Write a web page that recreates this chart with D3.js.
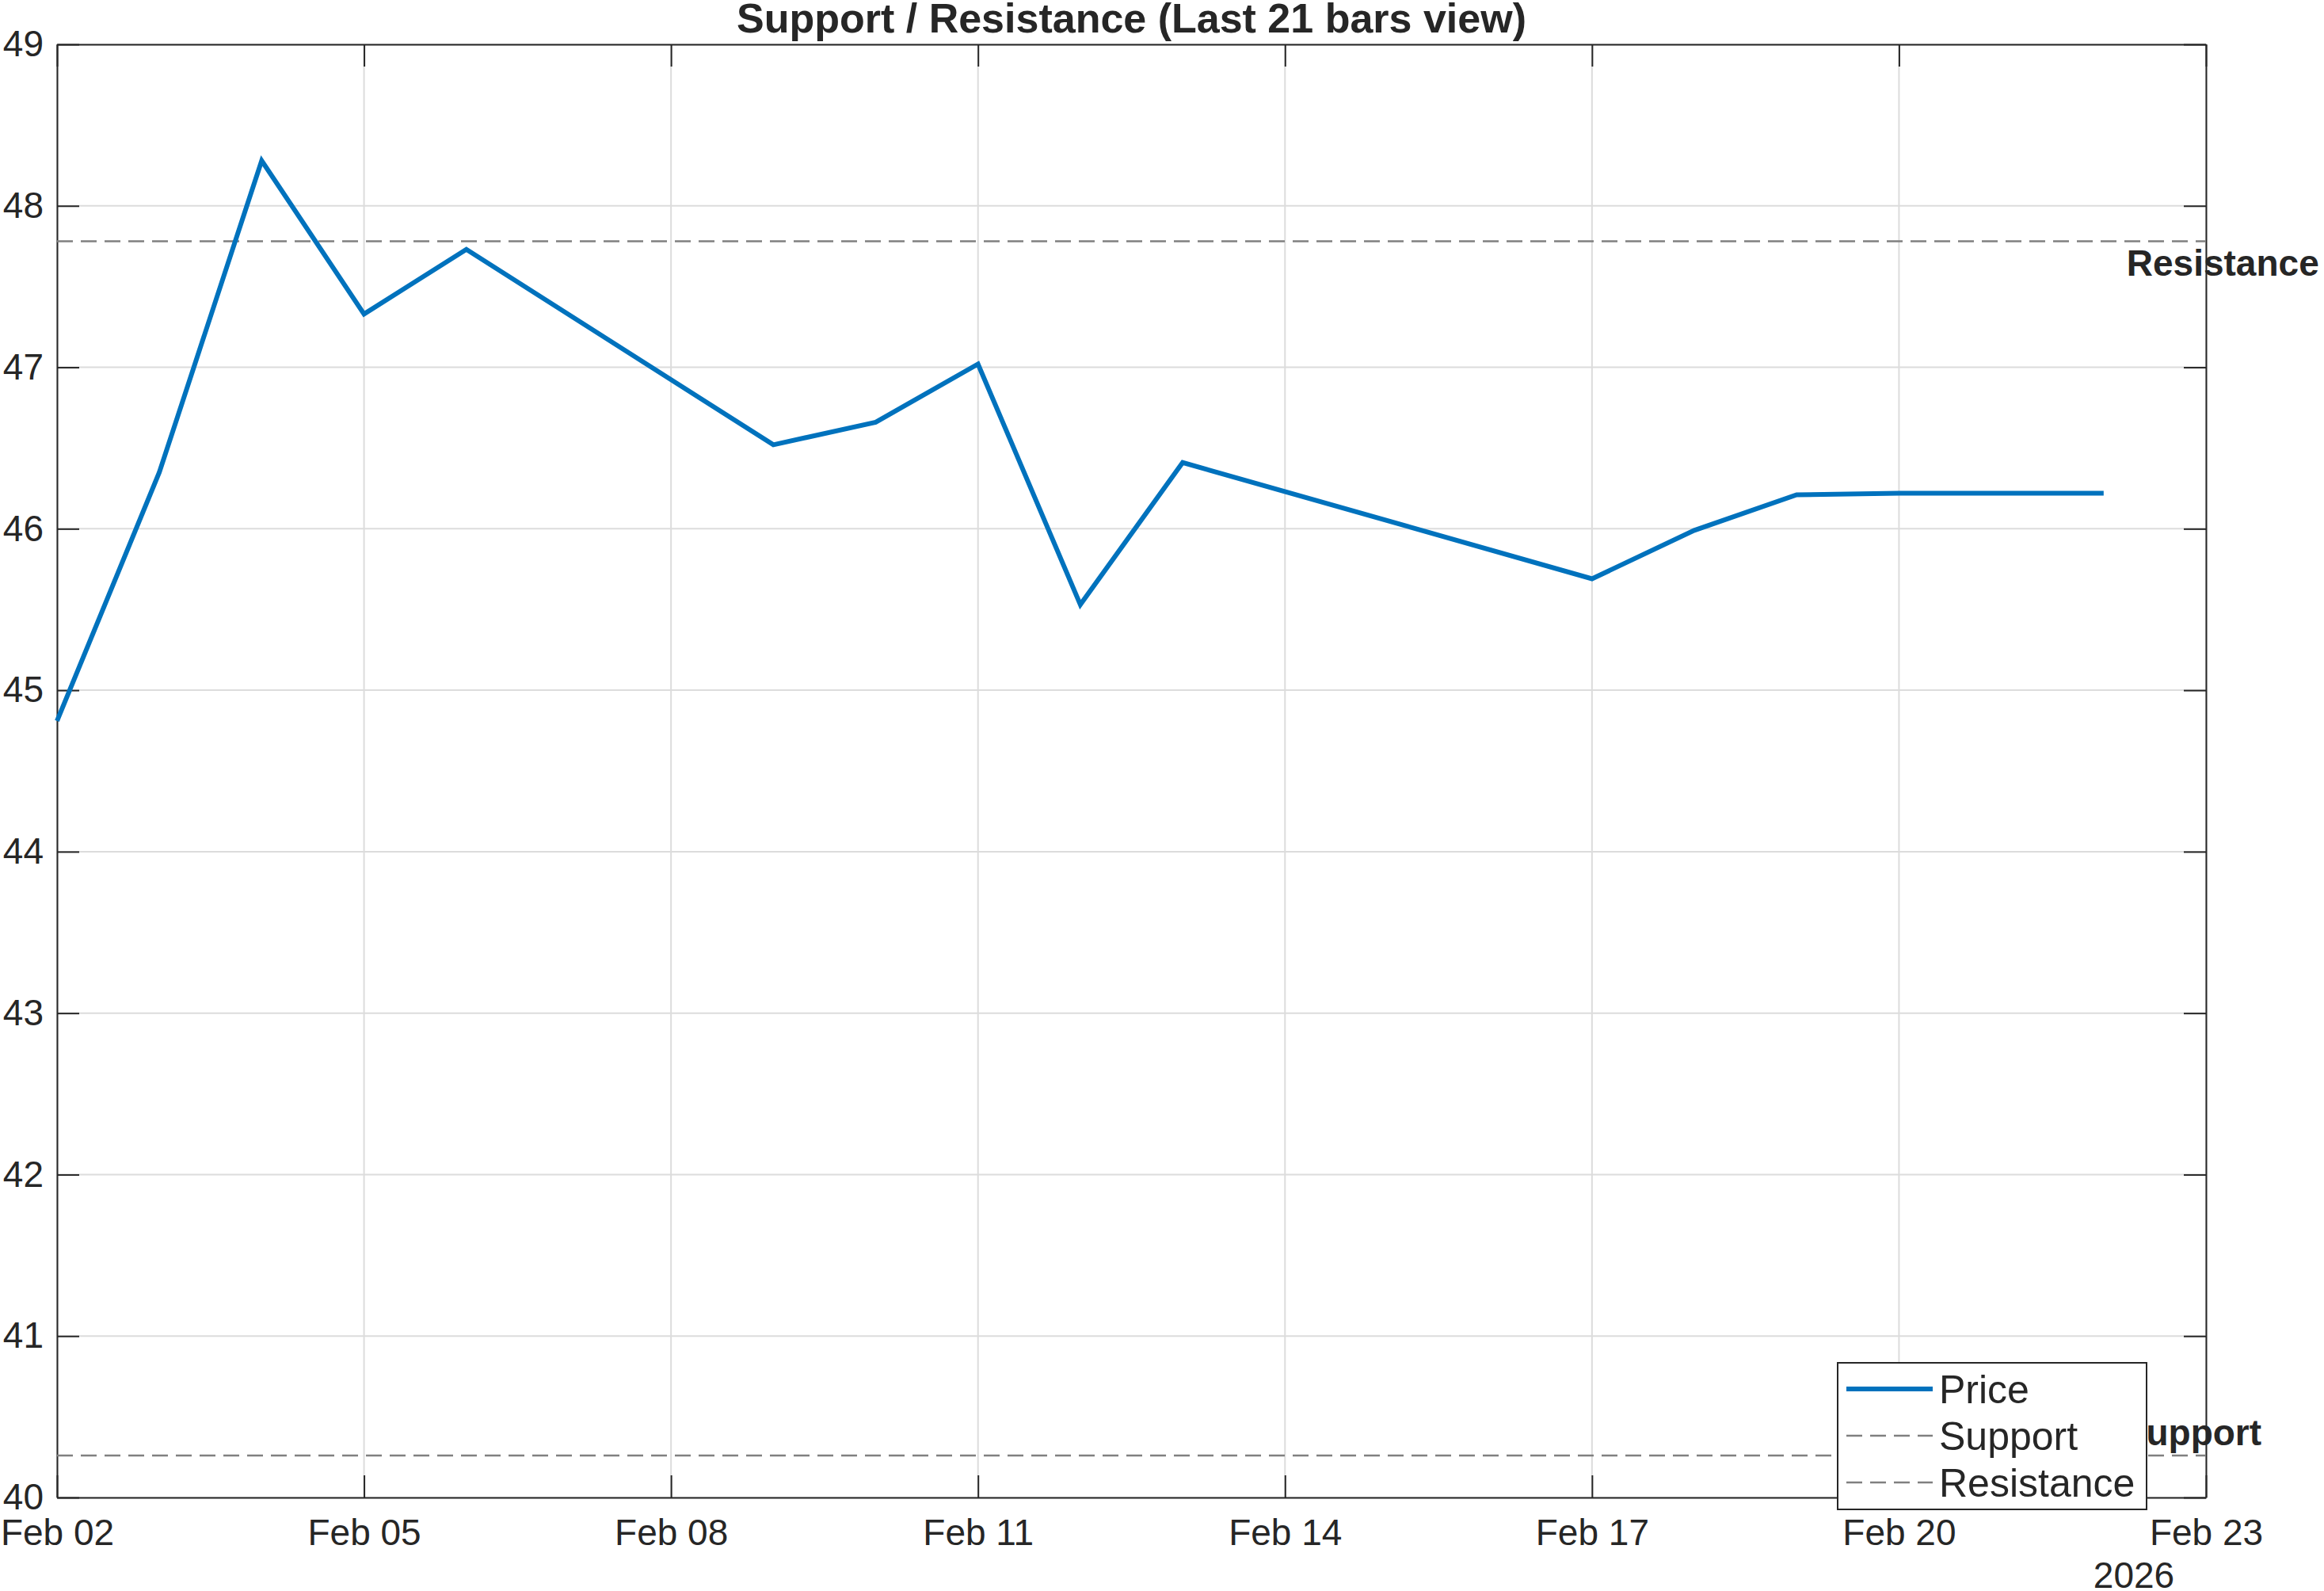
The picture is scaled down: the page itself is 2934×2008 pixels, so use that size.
<!DOCTYPE html>
<html>
<head>
<meta charset="utf-8">
<script src="https://cdn.jsdelivr.net/npm/d3@7"></script>
<style>
    body { margin: 0; background: #ffffff; }
    text { font-family: "Liberation Sans", Arial, sans-serif; fill: #262626; }
</style>
</head>
<body>
<div id="chart"></div>
<script>
// Support / Resistance chart

// Price data (trading days)
var dates = [
    "2026-02-02", "2026-02-03", "2026-02-04", "2026-02-05", "2026-02-06",
    "2026-02-09", "2026-02-10", "2026-02-11", "2026-02-12", "2026-02-13",
    "2026-02-17", "2026-02-18", "2026-02-19", "2026-02-20", "2026-02-22"
];
var prices = [
    44.81, 46.35, 48.28, 47.33, 47.73,
    46.52, 46.66, 47.02, 45.53, 46.41,
    45.69, 45.99, 46.21, 46.22, 46.22
];

// Levels
var supportLevel = 40.26;
var resistanceLevel = 47.78;

// Axis ticks
var xTickDates = ["2026-02-02", "2026-02-05", "2026-02-08", "2026-02-11",
    "2026-02-14", "2026-02-17", "2026-02-20", "2026-02-23"];
var yTickValues = [40, 41, 42, 43, 44, 45, 46, 47, 48, 49];
var xDomain = ["2026-02-02", "2026-02-23"];
var yDomain = [40, 49];

var legendNames = ["Price", "Support", "Resistance"];
var titleText = "Support / Resistance (Last 21 bars view)";
var yearText = "2026";

// Canvas
var width = 2934;
var height = 2008;

var plotLeft = 72;
var plotRight = 2785;
var plotTop = 56;
var plotBottom = 1890;

var fontSize = 46;
var axisColor = "#262626";
var gridColor = "#dcdcdc";
var priceColor = "#0072bd";
var levelColor = "#808080";

var parseDate = d3.utcParse("%Y-%m-%d");

var svg = d3
    .select("#chart")
    .append("svg")
    .attr("width", width)
    .attr("height", height);

var xScale = d3
    .scaleUtc()
    .domain(xDomain.map(parseDate))
    .range([plotLeft, plotRight]);

var yScale = d3
    .scaleLinear()
    .domain(yDomain)
    .range([plotBottom, plotTop]);

// Grid lines
svg.append("g")
    .selectAll("line")
    .data(xTickDates.map(parseDate))
    .enter()
    .append("line")
    .attr("x1", function(d) { return xScale(d); })
    .attr("x2", function(d) { return xScale(d); })
    .attr("y1", plotTop)
    .attr("y2", plotBottom)
    .attr("stroke", gridColor)
    .attr("stroke-width", 2);

svg.append("g")
    .selectAll("line")
    .data(yTickValues)
    .enter()
    .append("line")
    .attr("x1", plotLeft)
    .attr("x2", plotRight)
    .attr("y1", function(d) { return yScale(d); })
    .attr("y2", function(d) { return yScale(d); })
    .attr("stroke", gridColor)
    .attr("stroke-width", 2);

// Axes (ticks pointing inward, on all four sides)
var tickLen = 28;

var xAxis = d3.axisBottom(xScale)
    .tickValues(xTickDates.map(parseDate))
    .tickFormat(d3.utcFormat("%b %d"))
    .tickSizeInner(-tickLen)
    .tickSizeOuter(0)
    .tickPadding(27);

var xAxisTop = d3.axisTop(xScale)
    .tickValues(xTickDates.map(parseDate))
    .tickFormat("")
    .tickSizeInner(-tickLen)
    .tickSizeOuter(0);

var yAxis = d3.axisLeft(yScale)
    .tickValues(yTickValues)
    .tickFormat(d3.format("d"))
    .tickSizeInner(-tickLen)
    .tickSizeOuter(0)
    .tickPadding(17);

var yAxisRight = d3.axisRight(yScale)
    .tickValues(yTickValues)
    .tickFormat("")
    .tickSizeInner(-tickLen)
    .tickSizeOuter(0);

function styleAxis(g) {
    g.select(".domain").attr("stroke", axisColor).attr("stroke-width", 2);
    g.selectAll(".tick line").attr("stroke", axisColor).attr("stroke-width", 2);
    g.selectAll(".tick text")
        .attr("font-size", fontSize)
        .attr("font-family", "Liberation Sans, Arial, sans-serif")
        .attr("fill", axisColor);
}

svg.append("g")
    .attr("transform", "translate(0," + plotBottom + ")")
    .call(xAxis)
    .call(styleAxis);

svg.append("g")
    .attr("transform", "translate(0," + plotTop + ")")
    .call(xAxisTop)
    .call(styleAxis);

svg.append("g")
    .attr("transform", "translate(" + plotLeft + ",0)")
    .call(yAxis)
    .call(styleAxis);

svg.append("g")
    .attr("transform", "translate(" + plotRight + ",0)")
    .call(yAxisRight)
    .call(styleAxis);

// Year label under the last date tick
svg.append("text")
    .attr("x", xScale(parseDate(xDomain[1])) - 91)
    .attr("y", plotBottom + 114)
    .attr("text-anchor", "middle")
    .attr("font-size", fontSize)
    .text(yearText);

// Support and resistance lines
var levels = [supportLevel, resistanceLevel];

svg.append("g")
    .selectAll("line")
    .data(levels)
    .enter()
    .append("line")
    .attr("x1", plotLeft)
    .attr("x2", plotRight)
    .attr("y1", function(d) { return yScale(d); })
    .attr("y2", function(d) { return yScale(d); })
    .attr("stroke", levelColor)
    .attr("stroke-width", 2.5)
    .attr("stroke-dasharray", "20,10");

// Price line
var priceData = dates.map(function(d, i) {
    return { date: parseDate(d), price: prices[i] };
});

var line = d3.line()
    .x(function(d) { return xScale(d.date); })
    .y(function(d) { return yScale(d.price); });

svg.append("path")
    .datum(priceData)
    .attr("d", line)
    .attr("fill", "none")
    .attr("stroke", priceColor)
    .attr("stroke-width", 6)
    .attr("stroke-linejoin", "miter");

// Level labels, just right of the last bar
var labelX = xScale(parseDate(dates[dates.length - 1])) + 29;

svg.append("text")
    .attr("x", labelX)
    .attr("y", yScale(resistanceLevel) + 43)
    .attr("font-size", fontSize)
    .attr("font-weight", "bold")
    .text("Resistance");

svg.append("text")
    .attr("x", labelX - 6)
    .attr("y", yScale(supportLevel) - 13)
    .attr("font-size", fontSize)
    .attr("font-weight", "bold")
    .text("Support");

// Title
svg.append("text")
    .attr("x", (plotLeft + plotRight) / 2)
    .attr("y", 41)
    .attr("text-anchor", "middle")
    .attr("font-size", 52)
    .attr("font-weight", "bold")
    .text(titleText);

// Legend
var legendX = 2320;
var legendY = 1720;
var legendW = 390;
var legendH = 185;
var rowGap = 59;

var legend = svg.append("g")
    .attr("transform", "translate(" + legendX + "," + legendY + ")");

legend.append("rect")
    .attr("width", legendW)
    .attr("height", legendH)
    .attr("fill", "#ffffff")
    .attr("stroke", axisColor)
    .attr("stroke-width", 2);

var legendRows = legend.selectAll("g.row")
    .data(legendNames)
    .enter()
    .append("g")
    .attr("class", "row")
    .attr("transform", function(d, i) {
        return "translate(0," + (33 + i * rowGap) + ")";
    });

legendRows.append("line")
    .attr("x1", 11)
    .attr("x2", 120)
    .attr("stroke", function(d, i) { return i === 0 ? priceColor : levelColor; })
    .attr("stroke-width", function(d, i) { return i === 0 ? 6 : 2.5; })
    .attr("stroke-dasharray", function(d, i) { return i === 0 ? null : "20,10"; });

legendRows.append("text")
    .attr("x", 128)
    .attr("y", 18)
    .attr("font-size", 50)
    .text(function(d) { return d; });
</script>
</body>
</html>
